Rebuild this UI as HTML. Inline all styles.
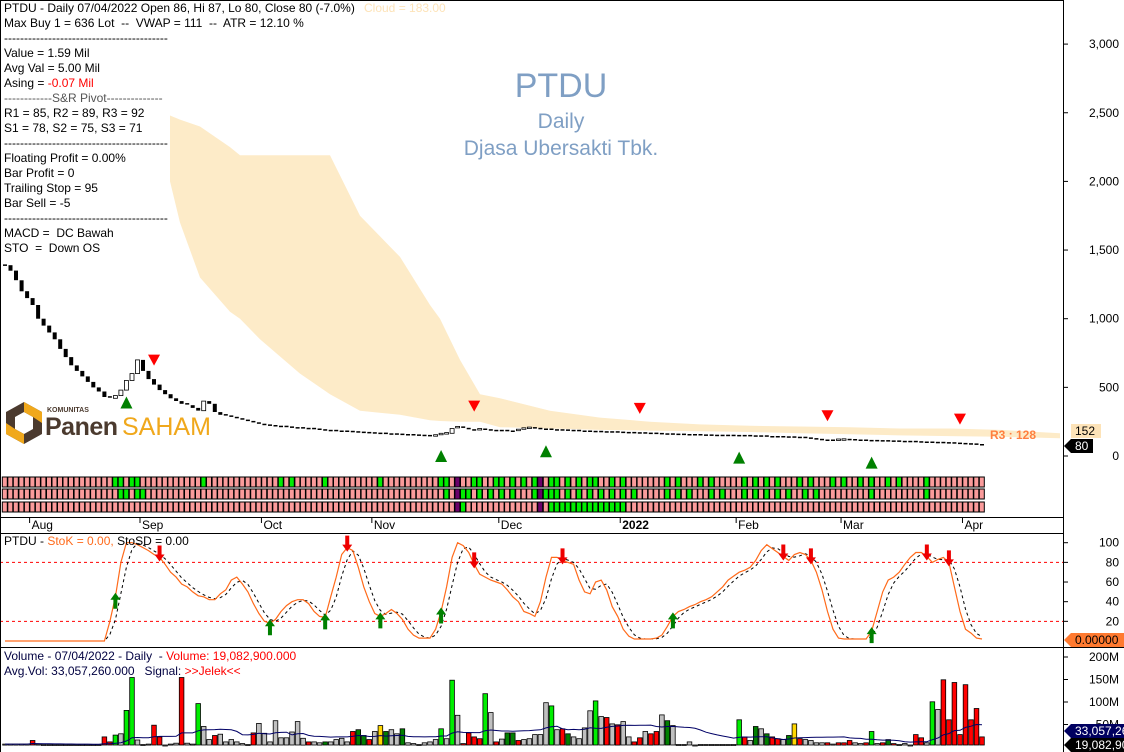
<!DOCTYPE html>
<html><head><meta charset="utf-8">
<style>
html,body{margin:0;padding:0;background:#fff;}
svg{display:block;font-family:"Liberation Sans",sans-serif;}
text{white-space:pre;}
</style></head>
<body>
<svg id="chart" width="1124" height="752" viewBox="0 0 1124 752" xmlns="http://www.w3.org/2000/svg" xml:space="preserve">
<rect x="0" y="0" width="1124" height="752" fill="#fff"/>
<g id="cloud"></g>
<g id="textbox">
  <rect x="1" y="1" width="169" height="256" fill="#fff"/>
</g>
<g id="title">
  <text x="561" y="97" font-size="34" fill="#7f9fc4" text-anchor="middle">PTDU</text>
  <text x="561" y="128" font-size="21" fill="#7f9fc4" text-anchor="middle">Daily</text>
  <text x="561" y="155" font-size="21" fill="#7f9fc4" text-anchor="middle">Djasa Ubersakti Tbk.</text>
</g>
<g id="logo">
  <polygon points="24,402 42,412 42,434 24,444 6,434 6,412" fill="#4b3a2e"/>
  <polygon points="24,412 33,417 33,429 24,434 15,429 15,417" fill="#fff"/>
  <polygon points="24,402 42,412 42,423 33,417 24,412" fill="#f0a81c"/>
  <polygon points="6,423 15,429 24,434 24,444 6,434" fill="#f0a81c"/>
  <text x="47" y="412" font-size="7" font-weight="bold" fill="#4b3a2e">KOMUNITAS</text>
  <text x="45" y="435" font-size="25" font-weight="bold" fill="#4b3a2e" letter-spacing="-0.5">Panen</text>
  <text x="122" y="435" font-size="25" fill="#f0a81c">SAHAM</text>
</g>
<g id="candles"></g>
<g id="signals"></g>
<g id="checker"></g>
<g id="stoch"></g>
<g id="vol"></g>
<g id="frame">
  <line x1="0.5" y1="0" x2="0.5" y2="752" stroke="#000"/>
  <line x1="0" y1="0.5" x2="1063" y2="0.5" stroke="#000"/>
  <line x1="1063.5" y1="0" x2="1063.5" y2="752" stroke="#000"/>
  <line x1="0" y1="517.5" x2="1063" y2="517.5" stroke="#000"/>
  <line x1="0" y1="533.5" x2="1063" y2="533.5" stroke="#000"/>
  <line x1="0" y1="647.5" x2="1124" y2="647.5" stroke="#000"/>
</g>
<g id="axes"></g>
</svg>
<script>
const NS="http://www.w3.org/2000/svg";
function mk(tag,attrs,parent,txt){const e=document.createElementNS(NS,tag);for(const k in attrs)e.setAttribute(k,attrs[k]);if(txt!==undefined)e.textContent=txt;parent.appendChild(e);return e;}

// ---------- DATA ----------
const closes=[1390,1350,1280,1200,1150,1100,1000,950,900,850,780,720,660,620,580,540,500,470,430,420,440,480,550,600,700,620,560,520,480,450,420,400,380,370,350,330,400,380,320,300,290,280,270,260,250,240,230,225,220,215,215,210,205,205,200,200,195,190,185,185,180,180,178,175,172,170,168,165,165,160,160,158,155,155,152,150,148,145,150,160,165,200,210,200,190,185,195,190,185,185,185,180,180,190,200,205,200,195,195,190,190,188,185,185,180,180,178,178,175,175,175,172,170,170,168,168,165,165,163,160,160,158,158,155,155,155,152,152,150,150,150,150,148,148,148,145,145,145,140,140,140,138,138,135,135,130,125,120,115,115,115,118,120,118,115,115,112,112,110,110,108,108,105,105,105,102,100,100,98,98,96,95,92,90,88,86,82,80];
const priceTicks=[0,500,1000,1500,2000,2500,3000];
const priceTickLabels=["0","500","1,000","1,500","2,000","2,500","3,000"];
const cloudX=[150,165,170,180,200,230,240,260,300,330,360,400,430,440,460,480,500,550,600,650,700,750,800,850,900,950,1000,1060];
const cloudUpper=[2600,2500,2480,2450,2400,2250,2190,2190,2190,2190,1750,1450,1100,1000,700,450,420,330,280,250,230,220,215,210,200,200,190,165];
const cloudLower=[2600,2300,2000,1700,1300,1050,1000,850,600,450,330,300,260,255,250,250,210,200,190,185,180,175,165,158,150,145,140,130];
const buySignals=[22,79,98,133,157];
const sellSignals=[27,85,115,149,173];
const row1Green=[20,21,23,24,36,50,52,58,68,79,80,85,86,89,90,92,94,96,97,99,100,102,104,106,107,110,112,120,122,126,128,134,136,138,140,144,146,150,152,155,157,160,162,167];
const row2Green=[21,22,24,25,80,83,84,86,88,90,92,96,98,99,100,102,104,106,108,110,112,114,120,122,124,128,130,134,136,138,140,142,145,147,157,167];
const row3Green=[83,99,100,101,102,103,104,105,106,107,108,109,110,111,112];
const purpleCells=[82,97];
const stochK=[0,0,0,0,0,0,0,0,0,0,0,0,0,0,0,0,0,0,0,20,45,80,100,100,98,95,92,88,85,78,70,65,58,55,50,46,45,42,42,48,52,62,65,58,50,38,28,20,18,22,30,36,40,42,42,38,30,25,24,45,65,88,95,92,75,55,40,28,25,28,32,28,22,12,6,3,3,3,12,30,55,85,100,97,90,78,68,65,62,60,58,52,45,40,30,28,25,40,65,85,85,82,80,78,62,50,48,60,62,52,35,25,12,5,2,2,2,2,3,6,15,25,30,32,35,37,40,42,45,50,55,62,66,70,72,75,82,92,98,94,90,86,82,88,90,88,82,70,52,30,12,3,2,2,2,2,2,10,30,50,62,65,70,78,85,90,90,86,80,83,85,80,55,30,12,8,3,2];
const stochTicks=[20,40,60,80,100];
const stochUp=[20,48,58,68,79,121,157];
const stochDown=[28,62,85,101,141,146,167,171];
const volumes=[2,2,2,2,2,10,2,1,1,1,1,1,1,1,1,1,1,1,18,7,22,25,77,150,11,1,2,44,18,0,2,4,150,4,2,92,41,12,21,24,7,12,7,3,1,27,48,26,7,54,16,16,29,52,15,7,7,5,7,7,12,15,7,30,34,21,12,30,43,30,34,25,36,5,3,1,5,7,12,36,14,144,66,3,27,18,14,114,72,7,13,27,27,10,12,14,23,23,94,87,34,36,25,18,14,38,76,98,63,61,47,45,52,18,7,16,30,25,30,67,54,43,1,1,7,0,1,1,1,1,1,1,1,56,18,10,41,36,25,18,14,12,21,47,14,12,10,5,5,5,2,5,5,10,5,3,5,30,3,5,12,3,1,3,0,23,16,5,96,79,145,56,139,23,134,56,81,18];
const upIdx=[20,22,23,35,79,81,87,99,107,133,157,168];
const upDarkIdx=[58,64,65,69,72,91,92,102,120,136,138,142,160];
const flatYellowIdx=[68,143];
const downIdx=[5,18,19,27,28,32,38,45,55,63,66,83,84,85,86,89,93,101,109,111,114,115,117,118,134,139,140,144,149,151,152,153,156,159,161,165,166,170,171,172,173,174,175,176,177];
const volTicks=[50,100,150,200];
const months=["Aug","Sep","Oct","Nov","Dec","2022","Feb","Mar","Apr"];
const monthStartBar=[5,25,47,67,90,112,133,152,174];

// ---------- SCALES ----------
const X0=5,STEP=5.52;
const xOf=i=>X0+i*STEP;
const yP=v=>456-v*0.1373;
const yS=v=>641-v*0.983;
const yV=v=>745-v*0.45;

// ---------- CLOUD ----------
const cloud=document.getElementById('cloud');
let pts=cloudX.map((x,k)=>x+','+yP(cloudUpper[k]).toFixed(1));
for(let k=cloudX.length-1;k>=0;k--)pts.push(cloudX[k]+','+yP(cloudLower[k]).toFixed(1));
const cp=mk('polygon',{points:pts.join(' '),fill:'#fdebc8'},cloud);


const lav=mk('polygon',{points:'88,45 118,48 130,85 145,90 110,92 90,70',fill:'#e2e2f7'},cloud);



// ---------- TEXT PANEL ----------
const tb=document.getElementById('textbox');
const lines=[
 [8,"PTDU - Daily 07/04/2022 Open 86, Hi 87, Lo 80, Close 80 (-7.0%)","#000"],
 [23,"Max Buy 1 = 636 Lot  --  VWAP = 111  --  ATR = 12.10 %","#000"],
 [38,"-----------------------------------------","#000"],
 [53,"Value = 1.59 Mil","#000"],
 [68,"Avg Val = 5.00 Mil","#000"],
 [98,"------------S&R Pivot--------------","#555"],
 [113,"R1 = 85, R2 = 89, R3 = 92","#000"],
 [128,"S1 = 78, S2 = 75, S3 = 71","#000"],
 [143,"-----------------------------------------","#000"],
 [158,"Floating Profit = 0.00%","#000"],
 [173,"Bar Profit = 0","#000"],
 [188,"Trailing Stop = 95","#000"],
 [203,"Bar Sell = -5","#000"],
 [218,"-----------------------------------------","#000"],
 [233,"MACD =  DC Bawah","#000"],
 [248,"STO  =  Down OS","#000"]];
lines.forEach((l,k)=>{const t=mk('text',{x:4,y:l[0]+4,'font-size':12,fill:l[2]},tb,l[1]);
 
 });
const cl=mk('text',{x:364,y:12,'font-size':12,fill:'#fde3b8'},tb,'Cloud = 183.00');


const as=mk('text',{x:4,y:87,'font-size':12,fill:'#000'},tb);


mk('tspan',{},as,'Asing = ');mk('tspan',{fill:'#ff0000'},as,'-0.07 Mil');

// ---------- CANDLES ----------
const cg=document.getElementById('candles');
closes.forEach((c,i)=>{
 const o=i>0?closes[i-1]:c;const x=xOf(i);
 const y1=yP(Math.max(o,c)),y2=yP(Math.min(o,c));
 const h=Math.max(1.5,y2-y1);
 const r=mk('rect',{x:(x-2).toFixed(1),y:(y1-(h>2?0:0.75)).toFixed(1),width:4,height:h.toFixed(1),fill:c<o?'#000':(c>o?'#fff':'#000'),stroke:'#000','stroke-width':c>o?0.8:0},cg);
 
 
});

// ---------- SIGNALS ----------
const sg=document.getElementById('signals');
buySignals.forEach(i=>{const x=xOf(i),y=yP(closes[i])+22;
 const p=mk('polygon',{points:`${x-6},${y+6} ${x+6},${y+6} ${x},${y-6}`,fill:'#008000'},sg);
 
 });
sellSignals.forEach(i=>{const x=xOf(i),y=yP(closes[i])-25;
 const p=mk('polygon',{points:`${x-6},${y-5} ${x+6},${y-5} ${x},${y+6}`,fill:'#ff0000'},sg);
 
 });

// ---------- CHECKER GRID ----------
const ck=document.getElementById('checker');
const rows=[[477,row1Green],[489,row2Green],[502,row3Green]];
rows.forEach(([ry,greens],ri)=>{
 for(let i=0;i<closes.length;i++){
  const x=xOf(i)-2.7;
  let f='#fa9b9b';
  if(greens.includes(i))f='#00ee00';
  if(purpleCells.includes(i))f='#6a006a';
  const r=mk('rect',{x:x.toFixed(1),y:ry,width:5.0,height:10,fill:f,stroke:'#000','stroke-width':1},ck);
  
  
 }
});

// ---------- STOCHASTIC ----------
const st=document.getElementById('stoch');
[80,20].forEach(v=>{const l=mk('line',{x1:0,x2:1063,y1:yS(v),y2:yS(v),stroke:'#ff0000','stroke-dasharray':'3,3'},st);
 
 });
const stochD=stochK.map((v,i)=>{let s=0,n=0;for(let k=Math.max(0,i-2);k<=i;k++){s+=stochK[k];n++;}return s/n;});
const dP=mk('polyline',{points:stochD.map((v,i)=>xOf(i).toFixed(1)+','+yS(v).toFixed(1)).join(' '),fill:'none',stroke:'#000','stroke-dasharray':'3,3','stroke-width':1},st);


const kP=mk('polyline',{points:stochK.map((v,i)=>xOf(i).toFixed(1)+','+yS(v).toFixed(1)).join(' '),fill:'none',stroke:'#ff6a1a','stroke-width':1.2},st);


stochUp.forEach(i=>{const x=xOf(i),y=yS(stochK[i]);
 const p=mk('polygon',{points:`${x-2},${y+12} ${x+2},${y+12} ${x+2},${y+3} ${x+5},${y+3} ${x},${y-4} ${x-5},${y+3} ${x-2},${y+3}`,fill:'#008000'},st);
 
 });
stochDown.forEach(i=>{const x=xOf(i),y=yS(stochK[i]);
 const p=mk('polygon',{points:`${x-2},${y-12} ${x+2},${y-12} ${x+2},${y-3} ${x+5},${y-3} ${x},${y+4} ${x-5},${y-3} ${x-2},${y-3}`,fill:'#ee0000'},st);
 
 });
const sl=mk('text',{x:4,y:545,'font-size':12,fill:'#000'},st);


mk('tspan',{},sl,'PTDU - ');mk('tspan',{fill:'#ff6a1a'},sl,'StoK = 0.00, ');mk('tspan',{},sl,'StoSD = 0.00');

// ---------- VOLUME ----------
const vg=document.getElementById('vol');
function volColor(i){
 if(upIdx.includes(i))return '#00ee00';
 if(upDarkIdx.includes(i))return '#008000';
 if(flatYellowIdx.includes(i))return '#ffd700';
 if(downIdx.includes(i))return '#ff0000';
 return '#c0c0c0';}
volumes.forEach((v,i)=>{const x=xOf(i);const top=Math.max(yV(v),650);
 const h=Math.max(1,745-top);
 const r=mk('rect',{x:(x-2.3).toFixed(1),y:top.toFixed(1),width:4.6,height:h.toFixed(1),fill:volColor(i),stroke:'#000','stroke-width':0.8},vg);
 
 });
const avg=volumes.map((v,i)=>{let s=0,n=0;for(let k=Math.max(0,i-19);k<=i;k++){s+=volumes[k];n++;}return s/n;});
const av=mk('polyline',{points:avg.map((v,i)=>xOf(i).toFixed(1)+','+yV(v).toFixed(1)).join(' '),fill:'none',stroke:'#000066','stroke-width':1},vg);


const vl1=mk('text',{x:4,y:660,'font-size':12,fill:'#000'},vg);


mk('tspan',{fill:'#000040'},vl1,'Volume - 07/04/2022 - Daily  - ');mk('tspan',{fill:'#ff0000'},vl1,'Volume: 19,082,900.000');
const vl2=mk('text',{x:4,y:675,'font-size':12,fill:'#000040'},vg);


mk('tspan',{},vl2,'Avg.Vol: 33,057,260.000   Signal: ');mk('tspan',{fill:'#ff0000'},vl2,'>>Jelek<<');

// ---------- AXES ----------
const ax=document.getElementById('axes');
priceTicks.forEach((v,k)=>{const y=yP(v);
 mk('line',{x1:1063,x2:1068,y1:y,y2:y,stroke:'#000'},ax);
 const t=mk('text',{x:1119,y:y+4,'font-size':12,'text-anchor':'end'},ax,priceTickLabels[k]);
 
 });
stochTicks.forEach(v=>{const y=yS(v);
 mk('line',{x1:1063,x2:1068,y1:y,y2:y,stroke:'#000'},ax);
 const t=mk('text',{x:1119,y:y+4,'font-size':12,'text-anchor':'end'},ax,String(v));
 
 });
volTicks.forEach(v=>{const y=yV(v)+2;
 mk('line',{x1:1063,x2:1068,y1:y,y2:y,stroke:'#000'},ax);
 const t=mk('text',{x:1119,y:y+4,'font-size':12,'text-anchor':'end'},ax,v+'M');
 
 });
months.forEach((m,k)=>{const x=xOf(monthStartBar[k])-3;
 mk('line',{x1:x,x2:x,y1:518,y2:523,stroke:'#000'},ax);
 const t=mk('text',{x:x+2,y:529,'font-size':12,'font-weight':m==='2022'?'bold':'normal'},ax,m);
 
 });

function tag(y,txt,bg,fg,name,w){
 const g=mk('g',{},ax);
 
 
 mk('polygon',{points:`1064,${y} 1071,${y-7} ${1071+w},${y-7} ${1071+w},${y+7} 1071,${y+7}`,fill:bg},g);
 mk('text',{x:1075,y:y+4,'font-size':12,fill:fg},g,txt);}
mk('rect',{x:1071,y:424,width:30,height:14,fill:'#fde3b8'},ax);
const t152=mk('text',{x:1075,y:435,'font-size':12},ax,'152');


tag(446,'80','#000','#fff','close-price-tag',22);
tag(640,'0.00000','#ff7a30','#000','stoch-value-tag',53);
tag(731,'33,057,26','#000060','#fff','avg-volume-tag',53);
tag(745,'19,082,90','#000','#fff','volume-value-tag',53);
const r3=mk('text',{x:990,y:439,'font-size':12,'font-weight':'bold',fill:'#ff8040'},ax,'R3 : 128');


</script>
</body></html>
